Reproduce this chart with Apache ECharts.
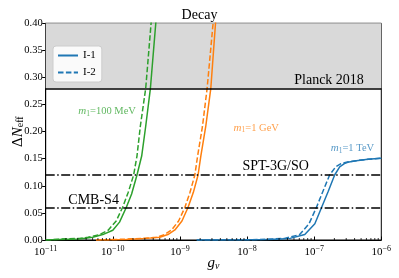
<!DOCTYPE html>
<html><head><meta charset="utf-8">
<script src="https://cdn.jsdelivr.net/npm/echarts@6/dist/echarts.min.js"></script>
<style>html,body{margin:0;padding:0;background:#fff}#c{width:399px;height:278px}</style>
</head><body><div id="c"></div>
<script>
// log10(g_nu) and Delta N_eff
const greenSolidLogG = [-11, -10.8, -10.5, -10.3, -10.15, -10.0, -9.9, -9.8, -9.72, -9.64, -9.57, -9.51, -9.44, -9.36, -9.33];
const greenSolidDN   = [0, 0.001, 0.002, 0.005, 0.01, 0.018, 0.033, 0.06, 0.085, 0.12, 0.155, 0.21, 0.28, 0.40, 0.45];
const greenDashLogG  = [-11, -10.8, -10.5, -10.37, -10.2, -10.07, -9.95, -9.855, -9.77, -9.69, -9.64, -9.59, -9.51, -9.43, -9.40];
const greenDashDN    = [0, 0.0015, 0.003, 0.005, 0.01, 0.018, 0.035, 0.06, 0.088, 0.12, 0.155, 0.21, 0.28, 0.40, 0.45];
const orangeSolidLogG = [-10.25, -9.8, -9.5, -9.3, -9.18, -9.075, -8.97, -8.88, -8.8, -8.73, -8.69, -8.615, -8.54, -8.47, -8.44];
const orangeSolidDN   = [0, 0.001, 0.003, 0.005, 0.01, 0.0185, 0.035, 0.06, 0.088, 0.12, 0.154, 0.21, 0.28, 0.40, 0.45];
const orangeDashLogG  = [-10.25, -9.8, -9.55, -9.35, -9.23, -9.125, -9.02, -8.927, -8.85, -8.778, -8.738, -8.664, -8.595, -8.506, -8.48];
const orangeDashDN    = [0, 0.0015, 0.003, 0.005, 0.01, 0.0185, 0.035, 0.06, 0.088, 0.12, 0.154, 0.21, 0.28, 0.40, 0.45];
const blueSolidLogG = [-8.75, -8.0, -7.7, -7.5, -7.36, -7.14, -6.99, -6.89, -6.79, -6.695, -6.62, -6.55, -6.5, -6.4, -6.2, -6.0];
const blueSolidDN   = [0, 0.0003, 0.001, 0.002, 0.003, 0.01, 0.03, 0.06, 0.09, 0.12, 0.135, 0.141, 0.1435, 0.146, 0.149, 0.151];
const blueDashLogG  = [-8.75, -8.0, -7.7, -7.44, -7.216, -7.077, -6.967, -6.869, -6.77, -6.68, -6.6, -6.52, -6.4, -6.2, -6.0];
const blueDashDN    = [0, 0.0004, 0.0013, 0.003, 0.01, 0.03, 0.06, 0.09, 0.12, 0.135, 0.141, 0.1435, 0.146, 0.149, 0.151];
const planckLevel = 0.28;
const bandTop = 0.40;
const sptLevel = 0.12;
const cmbLevel = 0.06;
const yTicks = [0, 0.05, 0.10, 0.15, 0.20, 0.25, 0.30, 0.35, 0.40];
const xDecades = [-11, -10, -9, -8, -7, -6];

const FONT = 'Liberation Serif';
const toPts = (lg, dn) => lg.map((v, i) => [Math.pow(10, v), dn[i]]);
const minorTicks = [];
for (let d = -11; d < -6; d++) for (let k = 2; k <= 9; k++) minorTicks.push([k * Math.pow(10, d), 0]);

const C_G = '#2ca02c', C_O = '#ff7f0e', C_B = '#1f77b4';
function curve(name, color, pts, dashed) {
  return { name, type: 'line', data: pts, symbol: 'none', showSymbol: false, z: 3, clip: true, animation: false,
    lineStyle: { color, width: 1.5, type: dashed ? [5.5, 2.4] : 'solid' }, itemStyle: { color } };
}
const dashDot = [9, 2.5, 1.5, 2.5];

const chart = echarts.init(document.getElementById('c'));
chart.setOption({
  animation: false,
  title: { text: 'Decay', left: 'center', top: 3, textStyle: { fontFamily: FONT, fontSize: 14, fontWeight: 'normal', color: '#000' } },
  grid: { left: 45.7, right: 17.7, top: 23.3, bottom: 38, containLabel: false, outerBoundsMode: 'none', show: true, borderColor: '#000', borderWidth: 1, backgroundColor: 'transparent' },
  legend: {
    data: ['I-1', 'I-2'], orient: 'vertical', left: 53, top: 46, itemWidth: 20, itemHeight: 10, itemGap: 6,
    padding: [4, 6, 4, 4], backgroundColor: 'rgba(255,255,255,0.85)', borderColor: '#cccccc', borderWidth: 1, borderRadius: 3,
    itemStyle: { opacity: 0 },
    textStyle: { fontFamily: FONT, fontSize: 11, color: '#000' }
  },
  xAxis: {
    type: 'log', logBase: 10, min: 1e-11, max: 1e-6,
    name: '{i|g}{s|ν}', nameLocation: 'middle', nameGap: 15, nameMoveOverlap: false,
    nameTextStyle: { rich: { i: { fontFamily: FONT, fontStyle: 'italic', fontSize: 15, color: '#000' }, s: { fontFamily: FONT, fontStyle: 'italic', fontSize: 10, color: '#000', padding: [6, 0, 0, 0] } } },
    axisLine: { lineStyle: { color: '#000', width: 1 } },
    axisTick: { inside: true, length: 3.5, lineStyle: { color: '#000' } },
    splitLine: { show: false },
    axisLabel: {
      margin: 5,
      formatter: v => '{b|10}{s|−' + Math.abs(Math.round(Math.log10(v))) + '}',
      rich: { b: { fontFamily: FONT, fontSize: 11, color: '#000' }, s: { fontFamily: FONT, fontSize: 8, color: '#000', padding: [0, 0, 6, 0] } }
    }
  },
  yAxis: {
    type: 'value', min: 0, max: 0.4, interval: 0.05,
    name: '{d|Δ}{i|N}{s|eff}', nameLocation: 'middle', nameGap: 20, nameRotate: 90, nameMoveOverlap: false,
    nameTextStyle: { rich: { d: { fontFamily: FONT, fontSize: 15, color: '#000' }, i: { fontFamily: FONT, fontStyle: 'italic', fontSize: 15, color: '#000' }, s: { fontFamily: FONT, fontSize: 10, color: '#000', padding: [6, 0, 0, 0] } } },
    axisLine: { show: true, lineStyle: { color: '#000', width: 1 } },
    axisTick: { show: true, inside: false, length: 3.5, lineStyle: { color: '#000' } },
    splitLine: { show: false },
    axisLabel: { margin: 3, fontFamily: FONT, fontSize: 10.5, color: '#000', formatter: v => v.toFixed(2) }
  },
  series: [
    { name: 'band', type: 'line', data: [], z: 1, silent: true,
      markArea: { silent: true, itemStyle: { color: '#d9d9d9' }, data: [[{ yAxis: planckLevel }, { yAxis: bandTop }]] },
      markLine: { silent: true, symbol: 'none', label: { show: false }, animation: false,
        data: [
          { yAxis: planckLevel, lineStyle: { color: '#000', width: 1.5, type: 'solid' } }
        ] } },
    curve('g1', C_G, toPts(greenSolidLogG, greenSolidDN), false),
    curve('g2', C_G, toPts(greenDashLogG, greenDashDN), true),
    curve('o1', C_O, toPts(orangeSolidLogG, orangeSolidDN), false),
    curve('o2', C_O, toPts(orangeDashLogG, orangeDashDN), true),
    curve('I-1', C_B, toPts(blueSolidLogG, blueSolidDN), false),
    curve('I-2', C_B, toPts(blueDashLogG, blueDashDN), true),
    { name: 'levels', type: 'line', data: [], z: 4, silent: true,
      markLine: { silent: true, symbol: 'none', label: { show: false }, animation: false,
        data: [
          { yAxis: sptLevel, lineStyle: { color: '#000', width: 1.5, type: dashDot } },
          { yAxis: cmbLevel, lineStyle: { color: '#000', width: 1.5, type: dashDot } }
        ] } },
    { name: 'minor', type: 'custom', data: minorTicks, z: 5, silent: true, clip: false,
      renderItem: (params, api) => {
        const p = api.coord([api.value(0), 0]);
        return { type: 'line', shape: { x1: p[0], y1: p[1], x2: p[0], y2: p[1] - 2 }, style: { stroke: '#000', lineWidth: 0.8 } };
      } }
  ]
});

// annotations placed in data coordinates (log10 g, ΔN)
const notes = [
  { t: 'Planck 2018', lg: -6.26, dn: 0.294, align: 'right', size: 14, color: '#000' },
  { t: 'SPT-3G/SO', lg: -7.574, dn: 0.1353, align: 'center', size: 14, color: '#000' },
  { t: 'CMB-S4', lg: -10.286, dn: 0.0725, align: 'center', size: 14, color: '#000' },
  { t: '{i|m}{s|1}=100 MeV', lg: -10.085, dn: 0.237, align: 'center', size: 10.5, color: 'rgba(44,160,44,0.75)' },
  { t: '{i|m}{s|1}=1 GeV', lg: -7.863, dn: 0.207, align: 'center', size: 10.5, color: 'rgba(255,127,14,0.75)' },
  { t: '{i|m}{s|1}=1 TeV', lg: -6.43, dn: 0.169, align: 'center', size: 10.5, color: 'rgba(31,119,180,0.75)' }
];
const graphic = notes.map(n => {
  const p = chart.convertToPixel({ gridIndex: 0 }, [Math.pow(10, n.lg), n.dn]);
  return { type: 'text', x: p[0], y: p[1], z: 10,
    style: { text: n.t, fontFamily: FONT, fontSize: n.size, fill: n.color, align: n.align, verticalAlign: 'middle',
      rich: { i: { fontFamily: FONT, fontStyle: 'italic', fontSize: n.size + 0.5, fill: n.color }, s: { fontFamily: FONT, fontSize: n.size - 3, fill: n.color, padding: [5, 0, 0, 0] } } } };
});
chart.setOption({ graphic });
</script></body></html>
